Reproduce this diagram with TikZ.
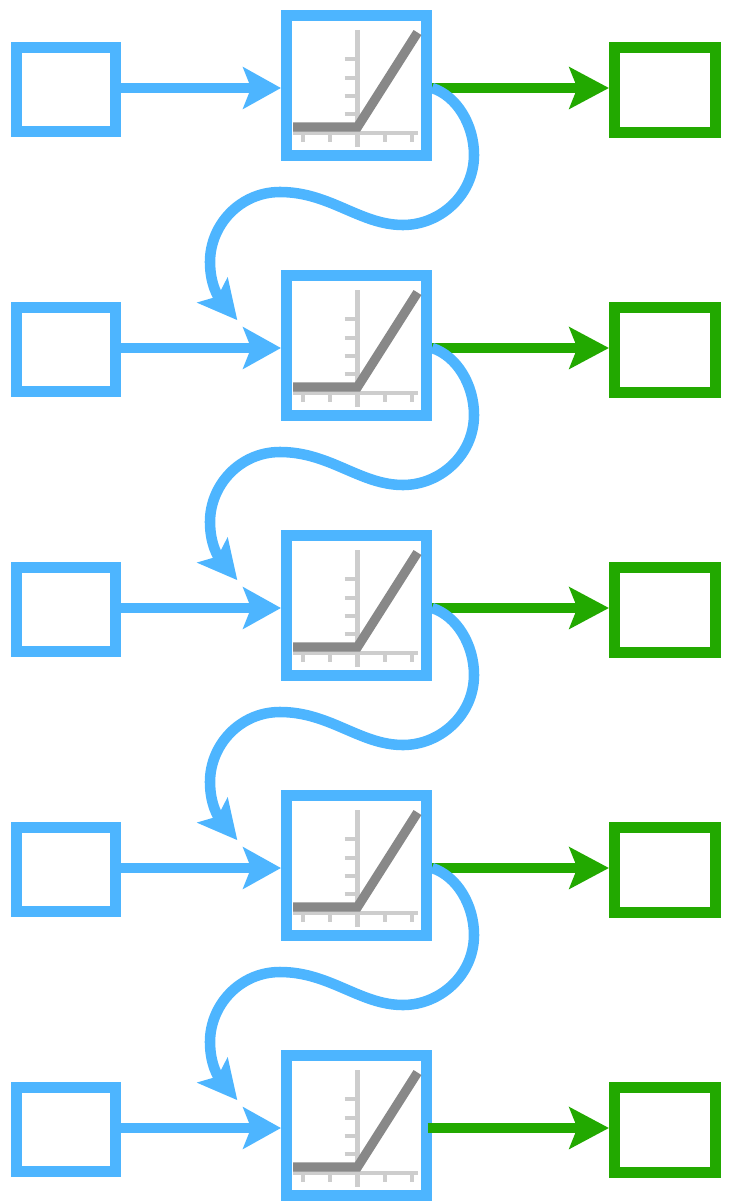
\documentclass[tikz,border=0pt]{standalone}
\usepackage{amsmath}
\usepackage{tikz}
\usetikzlibrary{arrows.meta}
\definecolor{skyblue}{HTML}{4DB5FF}
\definecolor{leafgreen}{HTML}{22A900}
\definecolor{axisgray}{HTML}{CDCDCD}
\definecolor{kinkgray}{HTML}{888888}
\tikzset{
  inbox/.style={draw=skyblue,line width=6pt,minimum width=1.99cm,minimum height=1.69cm},
  hidbox/.style={draw=skyblue,line width=6pt,minimum width=2.81cm,minimum height=2.81cm},
  outbox/.style={draw=leafgreen,line width=6pt,minimum width=2.03cm,minimum height=1.71cm},
  inflow/.style={draw=skyblue,line width=6pt,-{Stealth[length=21.5pt,width=23.5pt,inset=4.5pt]}},
  outflow/.style={draw=leafgreen,line width=6pt,-{Stealth[length=22.5pt,width=23.5pt,inset=4.5pt]}},
  backflow/.style={draw=skyblue,line width=6pt,shorten >=39pt,-{Stealth[length=22pt,width=22pt,inset=4.5pt]}},
  axisline/.style={draw=axisgray,line width=2.8pt},
  kinkline/.style={draw=kinkgray,line width=5.3pt,miter limit=10}
}
\newcommand{\kink}[1]{
  \begin{scope}[shift={(#1.center)}]
    \path[axisline] (1,-55.5) -- (1,61.5);
    \path[axisline] (-63.5,47.5) -- (61.5,47.5);
    \path[axisline] (-12,-26.5) -- (1,-26.5);
    \path[axisline] (-12,-7.5) -- (1,-7.5);
    \path[axisline] (-12,10.5) -- (1,10.5);
    \path[axisline] (-12,28.5) -- (1,28.5);
    \path[axisline] (-53.5,47.5) -- (-53.5,56.5);
    \path[axisline] (-26.5,47.5) -- (-26.5,56.5);
    \path[axisline] (28.5,47.5) -- (28.5,56.5);
    \path[axisline] (55.5,47.5) -- (55.5,56.5);
    \path[kinkline] (-63.5,41.5) -- (1,41.5) -- (61,-53);
  \end{scope}
}
\newcommand{\hop}[2]{
  \path[backflow] (#1.east |- A#1) .. controls (457,\the\numexpr#2+96\relax) and (474,\the\numexpr#2+125\relax) .. (474,\the\numexpr#2+155\relax)
    .. controls (474,\the\numexpr#2+195\relax) and (440,\the\numexpr#2+225\relax) .. (403,\the\numexpr#2+225\relax)
    .. controls (360,\the\numexpr#2+225\relax) and (330,\the\numexpr#2+192\relax) .. (280,\the\numexpr#2+192\relax)
    .. controls (240,\the\numexpr#2+192\relax) and (210,\the\numexpr#2+225\relax) .. (210,\the\numexpr#2+262\relax)
}
\begin{document}
\begin{tikzpicture}[x=0.02cm,y=-0.02cm]
    \useasboundingbox (0,0) rectangle (730,1203);
    \coordinate (AH1) at (0,88);
    \coordinate (AH2) at (0,348);
    \coordinate (AH3) at (0,608);
    \coordinate (AH4) at (0,868);
    \coordinate (AH5) at (0,1128);
    \node[inbox] (I1) at (66,89.5) {};
    \node[inbox] (I2) at (66,349.5) {};
    \node[inbox] (I3) at (66,609.5) {};
    \node[inbox] (I4) at (66,869.5) {};
    \node[inbox] (I5) at (66,1129.5) {};
    \node[hidbox] (H1) at (356.5,85.5) {};
    \node[hidbox] (H2) at (356.5,345.5) {};
    \node[hidbox] (H3) at (356.5,605.5) {};
    \node[hidbox] (H4) at (356.5,865.5) {};
    \node[hidbox] (H5) at (356.5,1125.5) {};
    \node[outbox] (O1) at (665,90) {};
    \node[outbox] (O2) at (665,350) {};
    \node[outbox] (O3) at (665,610) {};
    \node[outbox] (O4) at (665,870) {};
    \node[outbox] (O5) at (665,1130) {};
    \kink{H1}
    \kink{H2}
    \kink{H3}
    \kink{H4}
    \kink{H5}
    \path (I1.east |- AH1) edge[inflow] (H1.west |- AH1);
    \path (I2.east |- AH2) edge[inflow] (H2.west |- AH2);
    \path (I3.east |- AH3) edge[inflow] (H3.west |- AH3);
    \path (I4.east |- AH4) edge[inflow] (H4.west |- AH4);
    \path (I5.east |- AH5) edge[inflow] (H5.west |- AH5);
    \path (H1.east |- AH1) edge[outflow] (O1.west |- AH1);
    \path (H2.east |- AH2) edge[outflow] (O2.west |- AH2);
    \path (H3.east |- AH3) edge[outflow] (O3.west |- AH3);
    \path (H4.east |- AH4) edge[outflow] (O4.west |- AH4);
    \path ([xshift=-2.5pt]H5.east |- AH5) edge[outflow] (O5.west |- AH5);
    \hop{H1}{0} .. controls (210,285) and (219,298) .. (H2.200);
    \hop{H2}{260} .. controls (210,545) and (219,558) .. (H3.200);
    \hop{H3}{520} .. controls (210,805) and (219,818) .. (H4.200);
    \hop{H4}{780} .. controls (210,1065) and (219,1078) .. (H5.200);
\end{tikzpicture}
\end{document}
